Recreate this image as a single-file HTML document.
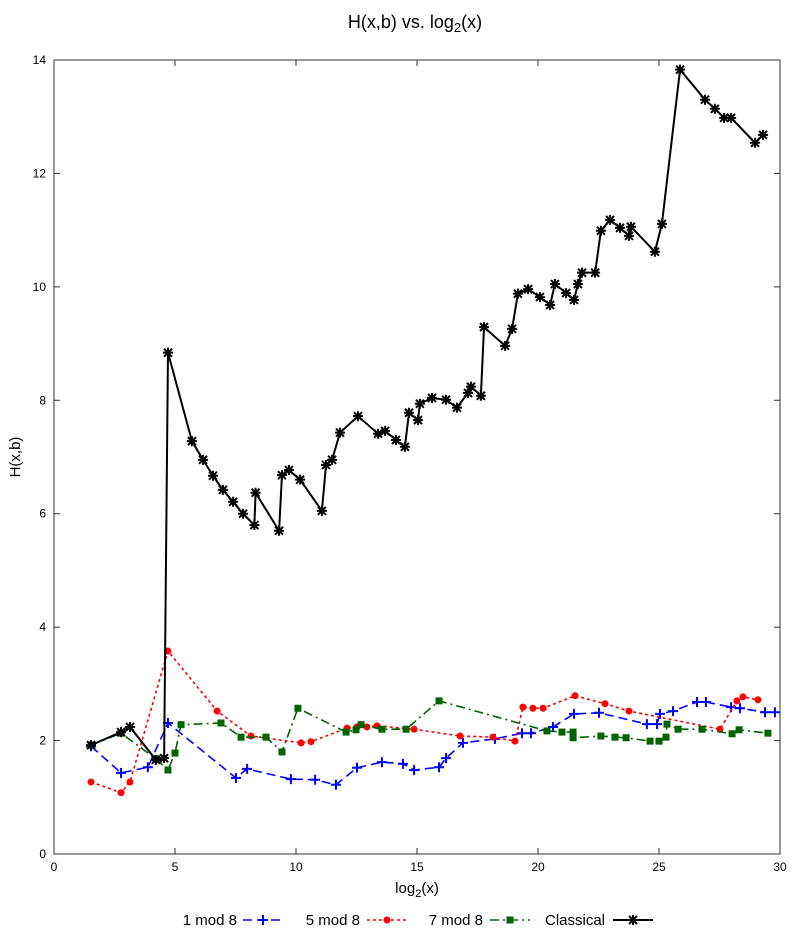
<!DOCTYPE html>
<html><head><meta charset="utf-8"><style>
body{margin:0;background:#fff;}
svg{display:block;font-family:"Liberation Sans",sans-serif;}
</style></head><body>
<svg id="chart" width="800" height="936">
<text x="415" y="28" font-size="18" text-anchor="middle">H(x,b) vs. log<tspan font-size="13" dy="4">2</tspan><tspan dy="-4">(x)</tspan></text>
<text transform="translate(20,457) rotate(-90)" font-size="15" text-anchor="middle">H(x,b)</text>
<text x="417" y="893" font-size="15" text-anchor="middle">log<tspan font-size="11" dy="4">2</tspan><tspan dy="-4">(x)</tspan></text>
<g id="axes"></g>
<g id="series"></g>
<g id="legend"></g>
</svg>
<script>
const xTicks=[0,5,10,15,20,25,30];
const yTicks=[0,2,4,6,8,10,12,14];
const seriesNames=["1 mod 8","5 mod 8","7 mod 8","Classical"];
const blueX=[1.53,2.77,3.88,4.71,7.52,7.98,9.79,10.79,11.65,12.52,13.55,14.42,14.88,15.91,16.20,16.90,18.22,19.34,19.71,20.62,21.49,22.52,24.50,24.92,25.04,25.58,26.57,26.94,27.98,28.35,29.38,29.79];
const blueY=[1.90,1.43,1.53,2.31,1.34,1.50,1.32,1.31,1.22,1.52,1.62,1.59,1.48,1.53,1.69,1.96,2.03,2.13,2.13,2.24,2.47,2.49,2.29,2.29,2.47,2.52,2.68,2.68,2.59,2.57,2.50,2.50];
const redX=[1.53,2.77,3.14,4.71,6.74,8.14,10.21,10.62,12.11,12.52,12.93,13.35,14.88,16.78,18.14,19.05,19.38,19.79,20.21,21.53,22.77,23.76,27.52,28.22,28.47,29.09];
const redY=[1.27,1.08,1.27,3.58,2.52,2.08,1.96,1.98,2.22,2.24,2.24,2.26,2.20,2.08,2.06,1.99,2.59,2.57,2.57,2.79,2.65,2.52,2.20,2.70,2.77,2.72];
const greenX=[1.53,2.77,4.21,4.71,5.00,5.25,6.90,7.73,8.76,9.42,10.08,12.07,12.48,12.69,13.55,14.55,15.91,20.37,20.99,21.45,21.45,22.60,23.18,23.64,24.63,25.00,25.29,25.33,25.79,26.78,28.02,28.31,29.50];
const greenY=[1.92,2.13,1.68,1.48,1.78,2.28,2.31,2.06,2.06,1.80,2.57,2.15,2.19,2.28,2.20,2.20,2.70,2.17,2.15,2.15,2.05,2.08,2.06,2.05,1.99,1.99,2.06,2.29,2.20,2.20,2.12,2.19,2.13];
const blackX=[1.53,2.77,3.14,4.21,4.55,4.71,5.70,6.16,6.57,6.98,7.40,7.81,8.28,8.33,9.30,9.42,9.71,10.17,11.07,11.24,11.49,11.82,12.56,13.39,13.68,14.13,14.50,14.67,15.04,15.12,15.62,16.20,16.65,17.11,17.23,17.64,17.77,18.64,18.93,19.17,19.59,20.08,20.50,20.70,21.16,21.49,21.65,21.82,22.36,22.60,22.98,23.39,23.76,23.84,24.83,25.12,25.87,26.90,27.31,27.69,27.98,28.97,29.30];
const blackY=[1.92,2.15,2.24,1.66,1.69,8.84,7.28,6.95,6.67,6.42,6.21,6.00,5.80,6.37,5.70,6.68,6.77,6.60,6.05,6.86,6.95,7.43,7.72,7.41,7.46,7.30,7.18,7.78,7.65,7.94,8.04,8.01,7.87,8.13,8.24,8.08,9.29,8.96,9.26,9.88,9.96,9.82,9.68,10.05,9.89,9.77,10.05,10.25,10.25,10.99,11.18,11.04,10.90,11.06,10.62,11.11,13.83,13.30,13.14,12.98,12.98,12.54,12.68];

const L=54,R=780,T=60,B=854;
const sx=v=>L+(v-0)/30*(R-L);
const sy=v=>B-(v-0)/14*(B-T);
const NS="http://www.w3.org/2000/svg";
function mk(tag,attrs,parent){const e=document.createElementNS(NS,tag);for(const k in attrs)e.setAttribute(k,attrs[k]);parent.appendChild(e);return e;}
const axes=document.getElementById('axes');
const frame=mk('rect',{x:L,y:T,width:R-L,height:B-T,fill:'none',stroke:'#333','stroke-width':1},axes);


xTicks.forEach(t=>{
  const x=sx(t);
  mk('line',{x1:x,y1:B,x2:x,y2:B-6,stroke:'#333'},axes);
  mk('line',{x1:x,y1:T,x2:x,y2:T+6,stroke:'#333'},axes);
  const tx=mk('text',{x:x,y:B+17,'font-size':12,'text-anchor':'middle'},axes);
  tx.textContent=t;
  
  
});
yTicks.forEach(t=>{
  const y=sy(t);
  mk('line',{x1:L,y1:y,x2:L+6,y2:y,stroke:'#333'},axes);
  mk('line',{x1:R,y1:y,x2:R-6,y2:y,stroke:'#333'},axes);
  const tx=mk('text',{x:L-8,y:y+4,'font-size':12,'text-anchor':'end'},axes);
  tx.textContent=t;
  
  
});
function marker(type,x,y,color,g){
  if(type==='plus'){mk('path',{d:`M${x-5},${y}H${x+5}M${x},${y-5}V${y+5}`,stroke:color,'stroke-width':2},g);}
  else if(type==='circle'){mk('circle',{cx:x,cy:y,r:3.5,fill:color},g);}
  else if(type==='square'){mk('rect',{x:x-3.5,y:y-3.5,width:7,height:7,fill:color},g);}
  else {mk('path',{d:`M${x-4},${y-4}L${x+4},${y+4}M${x-4},${y+4}L${x+4},${y-4}M${x-5},${y}H${x+5}M${x},${y-5}V${y+5}`,stroke:color,'stroke-width':2},g);}
}
const styles=[
 {xs:blueX,ys:blueY,color:'#0000ff',dash:'9,5',m:'plus',name:'series-1-mod-8'},
 {xs:redX,ys:redY,color:'#ff0000',dash:'3,3',m:'circle',name:'series-5-mod-8'},
 {xs:greenX,ys:greenY,color:'#006400',dash:'9,4,2,4',m:'square',name:'series-7-mod-8'},
 {xs:blackX,ys:blackY,color:'#000000',dash:'',m:'star',name:'series-classical'}];
const sg=document.getElementById('series');
styles.forEach(s=>{
  const g=mk('g',{},sg);
  
  
  const pts=s.xs.map((v,i)=>sx(v)+','+sy(s.ys[i])).join(' ');
  const pl=mk('polyline',{points:pts,fill:'none',stroke:s.color,'stroke-width':s.dash?1.6:2,'stroke-dasharray':s.dash},g);
  
  
  s.xs.forEach((v,i)=>marker(s.m,sx(v),sy(s.ys[i]),s.color,g));
});
const lg=document.getElementById('legend');
const textRight=[237,360,483,605];
const lineStart=[243,367,490,613];
styles.forEach((s,i)=>{
  const g=mk('g',{},lg);
  
  
  const t=mk('text',{x:textRight[i],y:925,'font-size':15,'text-anchor':'end'},g);
  t.textContent=seriesNames[i];
  const x0=lineStart[i];
  mk('line',{x1:x0,y1:920,x2:x0+40,y2:920,stroke:s.color,'stroke-width':s.dash?1.6:2,'stroke-dasharray':s.dash},g);
  marker(s.m,x0+20,920,s.color,g);
});
</script>
</body></html>
